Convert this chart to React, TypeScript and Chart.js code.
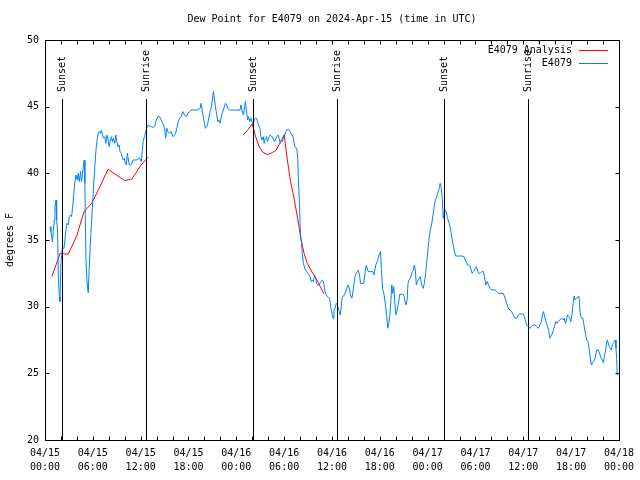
import React, { useEffect, useRef } from 'react';
import { Chart, registerables } from 'chart.js';

Chart.register(...registerables);

const FONT = '"DejaVu Sans Mono", monospace';
const BLUE = 'rgb(0,128,255)';
const RED = 'rgb(255,0,0)';

const titleText = 'Dew Point for E4079 on 2024-Apr-15 (time in UTC)';
const yAxisTitle = 'degrees F';

// x axis: hours since 04/15 00:00 UTC
const xTickDates = ['04/15', '04/15', '04/15', '04/15', '04/16', '04/16', '04/16', '04/16', '04/17', '04/17', '04/17', '04/17', '04/18'];
const xTickTimes = ['00:00', '06:00', '12:00', '18:00', '00:00', '06:00', '12:00', '18:00', '00:00', '06:00', '12:00', '18:00', '00:00'];

const markerLabels = ['Sunset', 'Sunrise', 'Sunset', 'Sunrise', 'Sunset', 'Sunrise'];
const markerHours = [2.12, 12.62, 26.15, 36.65, 50.05, 60.55];
const markerLineTop = 45.6;
const markerTextBase = 46.1;

const legendLabels = ['E4079 Analysis', 'E4079'];
const legendColors = [RED, BLUE];

const blueHours = [
  0.63, 0.75, 0.92, 1.04, 1.17, 1.25, 1.38, 1.46, 1.58, 1.67, 1.79, 1.88, 2.0, 2.17, 2.38, 2.5, 2.63, 2.75, 2.92, 3.04,
  3.21, 3.33, 3.46, 3.63, 3.75, 3.88, 4.04, 4.17, 4.29, 4.46, 4.58, 4.71, 4.83, 4.92, 5.0, 5.13, 5.25, 5.42, 5.54, 5.67,
  5.83, 6.04, 6.25, 6.38, 6.5, 6.67, 6.79, 6.96, 7.08, 7.21, 7.33, 7.5, 7.63, 7.75, 7.92, 8.04, 8.17, 8.33, 8.46, 8.58,
  8.75, 8.88, 9.0, 9.17, 9.29, 9.42, 9.58, 9.71, 9.83, 9.96, 10.08, 10.21, 10.33, 10.46, 10.58, 10.75, 10.88, 11.04, 11.46, 11.88,
  12.08, 12.21, 12.33, 12.5, 12.63, 12.75, 12.92, 13.13, 13.33, 13.54, 13.75, 13.96, 14.17, 14.38, 14.58, 14.79, 15.0, 15.13, 15.29, 15.42,
  15.63, 15.83, 16.04, 16.25, 16.38, 16.54, 16.67, 16.88, 17.08, 17.29, 17.5, 17.71, 17.92, 18.13, 18.33, 18.75, 19.17, 19.46, 19.58, 19.71,
  19.88, 20.0, 20.13, 20.29, 20.42, 20.54, 20.71, 20.83, 20.96, 21.13, 21.25, 21.38, 21.54, 21.67, 21.79, 21.96, 22.08, 22.21, 22.38, 22.5,
  22.63, 22.79, 22.92, 23.13, 23.75, 24.46, 24.58, 24.71, 24.88, 25.0, 25.13, 25.29, 25.42, 25.54, 25.71, 25.83, 25.96, 26.13, 26.25, 26.38,
  26.54, 26.67, 26.79, 26.96, 27.08, 27.21, 27.38, 27.5, 27.63, 27.79, 27.92, 28.04, 28.13, 28.25, 28.42, 28.54, 28.67, 28.83, 28.96, 29.08,
  29.25, 29.38, 29.5, 29.67, 29.79, 29.92, 30.08, 30.21, 30.33, 30.5, 30.63, 30.75, 30.92, 31.04, 31.17, 31.33, 31.46, 31.58, 31.71, 31.79,
  31.92, 32.04, 32.17, 32.29, 32.42, 32.58, 32.71, 32.83, 33.0, 33.13, 33.25, 33.42, 33.54, 33.67, 33.83, 33.96, 34.08, 34.25, 34.38, 34.5,
  34.67, 34.79, 34.92, 35.0, 35.13, 35.29, 35.42, 35.54, 35.71, 35.83, 35.96, 36.13, 36.25, 36.38, 36.54, 36.67, 36.79, 36.92, 37.04, 37.17,
  37.29, 37.46, 37.63, 37.79, 37.92, 38.04, 38.21, 38.33, 38.5, 38.63, 38.75, 38.88, 39.04, 39.17, 39.29, 39.46, 39.58, 40.0, 40.13, 40.29,
  40.42, 40.54, 40.83, 41.13, 41.25, 41.38, 41.5, 41.67, 41.79, 41.92, 42.08, 42.21, 42.33, 42.5, 42.63, 42.75, 42.88, 43.0, 43.13, 43.25,
  43.38, 43.5, 43.63, 43.75, 43.88, 44.0, 44.13, 44.25, 44.38, 44.5, 44.92, 45.04, 45.17, 45.29, 45.42, 45.54, 45.67, 45.83, 45.96, 46.08,
  46.21, 46.33, 46.46, 46.58, 46.71, 46.83, 46.96, 47.08, 47.21, 47.33, 47.46, 47.58, 47.71, 47.83, 47.96, 48.08, 48.21, 48.33, 48.46, 48.58,
  48.71, 48.83, 48.96, 49.08, 49.21, 49.33, 49.46, 49.58, 49.71, 49.83, 49.96, 50.08, 50.21, 50.33, 50.46, 50.58, 50.71, 50.83, 50.96, 51.08,
  51.21, 51.33, 51.5, 52.29, 52.58, 52.71, 52.83, 53.0, 53.17, 53.33, 53.46, 53.58, 53.75, 53.88, 54.0, 54.13, 54.25, 54.42, 54.58, 54.79,
  55.0, 55.13, 55.29, 55.46, 55.63, 55.83, 56.04, 56.46, 56.67, 56.88, 57.5, 57.71, 57.92, 58.13, 58.33, 58.54, 58.75, 58.96, 59.17, 59.38,
  59.58, 60.0, 60.13, 60.29, 60.42, 60.63, 60.83, 61.04, 61.25, 61.46, 61.67, 61.88, 62.08, 62.29, 62.42, 62.54, 62.67, 62.79, 62.92, 63.04,
  63.21, 63.33, 63.46, 63.58, 63.71, 63.83, 63.96, 64.08, 64.21, 64.38, 64.58, 64.79, 65.0, 65.13, 65.29, 65.42, 65.54, 65.71, 65.83, 65.96,
  66.13, 66.25, 66.38, 66.5, 66.63, 66.75, 66.88, 67.0, 67.13, 67.29, 67.46, 67.58, 67.71, 67.83, 67.96, 68.13, 68.25, 68.38, 68.54, 68.67,
  68.79, 68.96, 69.08, 69.21, 69.38, 69.5, 69.63, 69.79, 69.92, 70.04, 70.17, 70.29, 70.42, 70.54, 70.67, 70.79, 70.92, 71.04, 71.17, 71.29,
  71.42, 71.54, 71.63, 71.71, 71.79,
];

const blueValues = [
  36.0, 35.63, 34.88, 35.63, 36.5, 37.5, 38.0, 36.5, 35.75, 32.25, 30.75, 30.38, 33.25, 34.38, 34.38, 35.0, 35.75, 36.25, 36.13, 36.75,
  36.88, 36.75, 37.38, 38.63, 39.38, 39.88, 39.5, 40.0, 39.38, 40.13, 39.38, 40.0, 40.63, 41.0, 39.25, 33.75, 32.0, 31.05, 32.75, 34.5,
  36.25, 38.5, 40.5, 41.63, 42.38, 43.0, 43.13, 43.0, 43.25, 42.88, 42.63, 42.75, 42.25, 42.88, 42.5, 42.0, 42.38, 42.75, 42.38, 42.63,
  42.25, 42.88, 42.38, 42.0, 42.13, 41.63, 41.5, 41.13, 41.0, 41.13, 40.75, 40.63, 41.5, 41.0, 40.63, 40.63, 40.75, 41.0, 41.0, 41.13,
  40.88, 41.75, 42.5, 42.75, 43.13, 43.38, 43.63, 43.55, 43.5, 43.45, 43.5, 44.0, 44.25, 44.25, 44.0, 43.75, 43.38, 42.63, 43.38, 43.13,
  43.0, 43.13, 42.75, 42.88, 43.0, 43.38, 43.75, 44.13, 44.25, 44.63, 44.38, 44.25, 44.5, 44.63, 44.75, 44.75, 44.75, 44.88, 45.25, 44.75,
  44.13, 43.75, 43.38, 43.5, 43.75, 44.13, 44.63, 44.88, 45.38, 46.13, 45.63, 45.0, 44.38, 43.88, 44.0, 43.75, 44.13, 44.5, 44.75, 45.0,
  45.25, 45.13, 44.88, 44.75, 44.75, 44.75, 45.13, 44.75, 44.38, 44.75, 45.38, 44.63, 44.0, 44.25, 43.88, 44.13, 43.88, 43.63, 44.0, 44.13,
  44.13, 43.88, 43.63, 43.38, 42.75, 42.5, 42.75, 42.25, 42.63, 42.75, 42.38, 42.63, 42.75, 42.88, 42.75, 42.75, 42.5, 42.38, 42.63, 42.75,
  42.88, 42.63, 42.25, 42.5, 42.38, 42.75, 42.88, 43.13, 43.25, 43.3, 43.25, 43.13, 42.88, 42.88, 42.63, 42.0, 41.88, 41.88, 41.13, 39.5,
  37.75, 35.5, 34.75, 33.88, 33.25, 32.88, 32.75, 32.63, 32.5, 32.38, 32.25, 31.88, 32.0, 31.88, 32.38, 32.13, 31.75, 31.63, 31.63, 31.75,
  31.88, 32.0, 31.88, 31.63, 31.13, 30.88, 30.75, 30.7, 30.63, 30.0, 29.63, 29.13, 29.75, 29.88, 30.25, 30.13, 29.88, 29.63, 29.38, 30.0,
  30.75, 30.8, 31.0, 31.25, 31.5, 31.63, 31.25, 30.88, 30.63, 31.13, 31.63, 32.25, 32.5, 32.63, 32.75, 32.38, 31.75, 31.75, 32.5, 33.1,
  32.9, 32.63, 32.63, 32.63, 32.38, 32.75, 33.13, 33.38, 33.63, 33.88, 34.13, 32.75, 31.38, 31.0, 30.5, 29.88, 29.25, 28.38, 28.75, 29.25,
  30.38, 31.63, 31.0, 31.5, 30.38, 29.38, 29.63, 30.0, 30.38, 30.93, 30.93, 30.75, 30.38, 30.13, 30.5, 31.75, 32.0, 32.13, 32.38, 32.63,
  32.75, 33.13, 32.75, 31.63, 31.88, 32.0, 32.13, 32.25, 31.75, 31.5, 31.38, 31.75, 32.25, 33.0, 33.75, 34.5, 35.25, 35.75, 36.0, 36.5,
  37.0, 37.5, 38.0, 38.13, 38.38, 38.63, 38.88, 39.25, 38.88, 38.13, 36.63, 37.0, 37.25, 37.13, 36.75, 36.5, 36.25, 35.88, 35.5, 35.0,
  34.63, 34.25, 33.8, 33.8, 33.75, 33.5, 33.38, 33.13, 33.13, 33.0, 32.75, 32.5, 32.63, 32.75, 32.88, 33.0, 32.75, 32.5, 32.5, 32.63,
  32.63, 32.25, 31.63, 31.88, 31.63, 31.38, 31.25, 31.25, 31.13, 31.0, 31.0, 30.63, 30.25, 29.88, 29.75, 29.63, 29.38, 29.13, 29.13, 29.38,
  29.45, 29.45, 29.25, 28.88, 28.63, 28.5, 28.38, 28.5, 28.63, 28.63, 28.5, 28.38, 28.63, 28.88, 29.5, 29.63, 29.25, 29.0, 28.75, 28.5,
  28.13, 27.63, 27.75, 27.88, 28.13, 28.38, 28.63, 28.88, 28.75, 28.88, 29.0, 29.13, 29.0, 29.13, 28.75, 29.0, 29.38, 29.25, 29.13, 28.88,
  29.5, 30.25, 30.8, 30.5, 30.63, 30.63, 30.75, 30.75, 29.5, 29.13, 29.13, 28.75, 28.25, 27.88, 27.5, 27.38, 26.88, 26.25, 25.63, 25.75,
  25.88, 26.0, 26.38, 26.75, 26.75, 26.63, 26.38, 26.13, 26.0, 25.8, 26.25, 26.63, 27.13, 27.5, 27.25, 27.0, 26.88, 26.75, 27.13, 27.25,
  27.38, 27.5, 26.88, 26.13, 24.88,
];

const redHours = [
  0.85, 1.9, 2.9, 3.95, 4.9, 5.85, 6.9, 7.9, 8.95, 10.0, 10.9, 11.9, 12.9, 18.9,
  24.9, 25.5, 26.0, 26.4, 26.9, 27.3, 27.9, 28.5, 29.0, 29.6, 30.0, 30.4, 30.8, 31.25, 31.7, 32.1, 32.5, 32.9, 33.5, 34.2, 35.0,
];
const redValues = [
  32.25, 34.0, 33.93, 35.25, 37.13, 37.75, 39.0, 40.3, 39.88, 39.45, 39.58, 40.5, 41.2, null,
  42.9, 43.3, 43.7, 42.8, 41.95, 41.6, 41.4, 41.55, 41.75, 42.4, 42.9, 41.0, 39.4, 38.1, 36.6, 35.1, 34.0, 33.25, 32.6, 31.9, 30.95,
];

const TICK_LEN = 4;

const gnuplotDecor = {
  id: 'gnuplotDecor',
  afterDatasetsDraw(chart: any) {
    const { ctx, chartArea: a, scales } = chart;
    const x = scales.x;
    const y = scales.y;
    const L = Math.round(a.left) + 0.5;
    const R = Math.round(a.right) + 0.5;
    const T = Math.round(a.top) + 0.5;
    const B = Math.round(a.bottom) + 0.5;
    ctx.save();
    ctx.strokeStyle = '#000';
    ctx.fillStyle = '#000';
    ctx.lineWidth = 1;
    ctx.font = `10px ${FONT}`;

    // sunrise / sunset markers
    markerHours.forEach((h, i) => {
      const px = Math.round(x.getPixelForValue(h)) + 0.5;
      const top = Math.round(y.getPixelForValue(markerLineTop));
      ctx.beginPath();
      ctx.moveTo(px, top);
      ctx.lineTo(px, B);
      ctx.stroke();
      ctx.save();
      ctx.translate(px, y.getPixelForValue(markerTextBase));
      ctx.rotate(-Math.PI / 2);
      ctx.textAlign = 'left';
      ctx.textBaseline = 'middle';
      ctx.fillText(markerLabels[i], 0, 0);
      ctx.restore();
    });

    // frame
    ctx.beginPath();
    ctx.rect(L, T, R - L, B - T);
    ctx.stroke();

    // inward ticks
    ctx.beginPath();
    x.ticks.forEach((t: any) => {
      const px = Math.round(x.getPixelForValue(t.value)) + 0.5;
      ctx.moveTo(px, B);
      ctx.lineTo(px, B - TICK_LEN);
      ctx.moveTo(px, T);
      ctx.lineTo(px, T + TICK_LEN);
    });
    y.ticks.forEach((t: any) => {
      const py = Math.round(y.getPixelForValue(t.value)) + 0.5;
      ctx.moveTo(L, py);
      ctx.lineTo(L + TICK_LEN, py);
      ctx.moveTo(R, py);
      ctx.lineTo(R - TICK_LEN, py);
    });
    ctx.stroke();

    // legend (top right, inside)
    legendLabels.forEach((lab, i) => {
      const ly = Math.round(a.top + 9.5 + i * 13) + 0.5;
      ctx.textAlign = 'right';
      ctx.textBaseline = 'middle';
      ctx.fillStyle = '#000';
      ctx.fillText(lab, a.right - 47, ly);
      ctx.strokeStyle = legendColors[i];
      ctx.beginPath();
      ctx.moveTo(a.right - 40, ly);
      ctx.lineTo(a.right - 11, ly);
      ctx.stroke();
    });
    ctx.restore();
  },
};

export default function App() {
  const canvasRef = useRef<HTMLCanvasElement | null>(null);

  useEffect(() => {
    const canvas = canvasRef.current;
    if (!canvas) return;
    const blueData = blueHours.map((h, i) => ({ x: h, y: blueValues[i] }));
    const redData = redHours.map((h, i) => ({ x: h, y: redValues[i] }));

    const chart = new Chart(canvas, {
      type: 'line',
      data: {
        datasets: [
          {
            label: 'E4079',
            data: blueData,
            borderColor: BLUE,
            backgroundColor: BLUE,
            borderWidth: 1,
            pointRadius: 0,
            tension: 0,
            fill: false,
          },
          {
            label: 'E4079 Analysis',
            data: redData as any,
            borderColor: RED,
            backgroundColor: RED,
            borderWidth: 1,
            pointRadius: 0,
            tension: 0,
            fill: false,
            spanGaps: false,
          },
        ],
      },
      options: {
        animation: false,
        responsive: false,
        events: [],
        layout: { padding: { left: 0, right: 19, top: 0, bottom: 0 } },
        plugins: {
          legend: { display: false },
          tooltip: { enabled: false },
          title: {
            display: true,
            text: titleText,
            fullSize: false,
            color: '#000',
            font: { family: FONT, size: 10, weight: 'normal', lineHeight: 1.2 },
            padding: { top: 13, bottom: 15 },
          },
        },
        scales: {
          x: {
            type: 'linear',
            min: 0,
            max: 72,
            grid: { display: false, drawTicks: false },
            border: { display: false },
            ticks: {
              stepSize: 2,
              autoSkip: false,
              maxRotation: 0,
              minRotation: 0,
              padding: 6,
              color: '#000',
              font: { family: FONT, size: 10, lineHeight: 1.4 },
              callback: (value: any) => {
                const v = Number(value);
                if (Math.abs(v % 6) > 1e-6) return '';
                const i = Math.round(v / 6);
                return [xTickDates[i], xTickTimes[i]];
              },
            },
            afterFit: (s: any) => {
              s.height = 40;
            },
          },
          y: {
            min: 20,
            max: 50,
            grid: { display: false, drawTicks: false },
            border: { display: false },
            ticks: {
              stepSize: 5,
              padding: 6,
              color: '#000',
              font: { family: FONT, size: 10, lineHeight: 1.2 },
            },
            title: {
              display: true,
              text: yAxisTitle,
              color: '#000',
              font: { family: FONT, size: 10, lineHeight: 1.2 },
              padding: { top: 4, bottom: 0 },
            },
            afterFit: (s: any) => {
              s.width = 45;
            },
          },
        },
      },
      plugins: [gnuplotDecor],
    } as any);

    return () => chart.destroy();
  }, []);

  return (
    <div style={{ position: 'fixed', left: 0, top: 0, width: 640, height: 480, background: '#fff' }}>
      <canvas ref={canvasRef} width={640} height={480} style={{ display: 'block' }} />
    </div>
  );
}
